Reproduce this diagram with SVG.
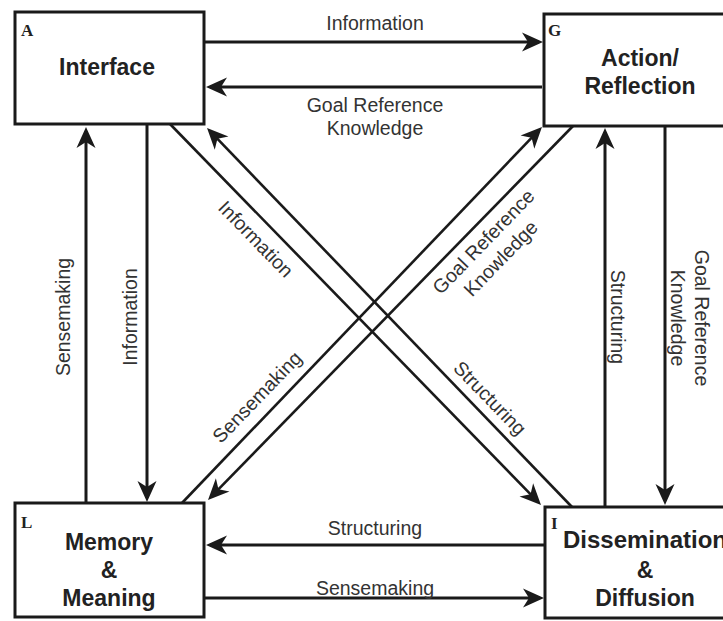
<svg xmlns="http://www.w3.org/2000/svg" width="723" height="621" viewBox="0 0 723 621">
<style>
.box{fill:#fff;stroke:#1a1a1a;stroke-width:3}
.title{font-family:"Liberation Sans",Arial,sans-serif;font-weight:bold;font-size:23px;fill:#222;text-anchor:middle}
.corner{font-family:"Liberation Serif","Times New Roman",serif;font-weight:bold;font-size:17px;fill:#222}
.lbl{font-family:"Liberation Sans",Arial,sans-serif;font-size:19.5px;fill:#333;text-anchor:middle}
.c{stroke:#1a1a1a;stroke-width:3;fill:none;marker-end:url(#ah)}
.d{stroke:#1a1a1a;stroke-width:2.6;fill:none;marker-end:url(#ah)}
</style>
<defs>
<marker id="ah" markerUnits="userSpaceOnUse" viewBox="-20 -11 26 22" refX="0" refY="0" markerWidth="26" markerHeight="22" orient="auto">
<path d="M4,0 L-17,-9.5 L-11,0 L-17,9.5 Z" fill="#1a1a1a"/>
</marker>
</defs>
<rect width="723" height="621" fill="#fff"/>

<g id="connectors">
<line class="c" x1="204" y1="42" x2="539" y2="42"/>
<line class="c" x1="542" y1="87" x2="210" y2="87"/>
<line class="c" x1="86" y1="503" x2="86" y2="131"/>
<line class="c" x1="147" y1="124" x2="147" y2="498"/>
<line class="c" x1="605" y1="507" x2="605" y2="132"/>
<line class="c" x1="665" y1="126" x2="665" y2="501"/>
<line class="c" x1="545" y1="545" x2="210" y2="545"/>
<line class="c" x1="204" y1="598" x2="540" y2="598"/>
<line class="d" x1="170" y1="124" x2="538.2" y2="502.1"/>
<line class="d" x1="572" y1="507" x2="209.8" y2="130.9"/>
<line class="d" x1="182" y1="503" x2="539.2" y2="129.9"/>
<line class="d" x1="573" y1="126" x2="210.8" y2="497.1"/>

<text class="lbl" x="375" y="30">Information</text>
<text class="lbl" x="375" y="112">Goal Reference</text>
<text class="lbl" x="375" y="135">Knowledge</text>
<text class="lbl" x="375" y="535">Structuring</text>
<text class="lbl" x="375" y="595">Sensemaking</text>
<text class="lbl" transform="translate(63,317) rotate(-90)" dy="0.35em">Sensemaking</text>
<text class="lbl" transform="translate(130,317) rotate(-90)" dy="0.35em">Information</text>
<text class="lbl" transform="translate(618,317) rotate(90)" dy="0.35em">Structuring</text>
<text class="lbl" transform="translate(702,318) rotate(90)" dy="0.35em">Goal Reference</text>
<text class="lbl" transform="translate(678,318) rotate(90)" dy="0.35em">Knowledge</text>
<text class="lbl" transform="translate(256,239) rotate(45.8)" dy="0.35em">Information</text>
<text class="lbl" transform="translate(490,398) rotate(45.8)" dy="0.35em">Structuring</text>
<text class="lbl" transform="translate(257,397) rotate(-46)" dy="0.35em">Sensemaking</text>
<text class="lbl" transform="translate(492,250) rotate(-46)"><tspan x="0" y="-12" dy="0.35em">Goal Reference</tspan><tspan x="0" y="12" dy="0.35em">Knowledge</tspan></text>
</g>

<g id="node-A">
<rect class="box" x="15" y="12" width="189" height="112"/>
<text class="corner" x="21" y="36">A</text>
<text class="title" x="107" y="75">Interface</text>
</g>
<g id="node-G">
<rect class="box" x="544" y="14" width="190" height="112"/>
<text class="corner" x="548" y="36">G</text>
<text class="title" x="640" y="66">Action/</text>
<text class="title" x="640" y="94">Reflection</text>
</g>
<g id="node-L">
<rect class="box" x="15" y="503" width="189" height="114"/>
<text class="corner" x="21" y="528">L</text>
<text class="title" x="109" y="550">Memory</text>
<text class="title" x="109" y="578">&amp;</text>
<text class="title" x="109" y="606">Meaning</text>
</g>
<g id="node-I">
<rect class="box" x="545" y="507" width="190" height="111"/>
<text class="corner" x="551" y="529">I</text>
<text class="title" x="645" y="548" style="font-size:24px">Dissemination</text>
<text class="title" x="645" y="578">&amp;</text>
<text class="title" x="645" y="606">Diffusion</text>
</g>
</svg>
